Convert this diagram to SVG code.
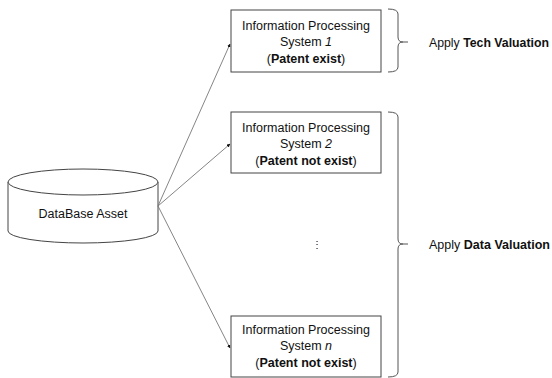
<svg xmlns="http://www.w3.org/2000/svg" width="552" height="378" viewBox="0 0 552 378">
  <style>
    text { font-family: "Liberation Sans", "Noto Sans CJK KR", sans-serif; font-size: 12.5px; fill: #111; }
    .c { text-anchor: middle; }
    .b { font-weight: bold; }
    .i { font-style: italic; }
    .box { fill: #fff; stroke: #444; stroke-width: 1; }
    .edge { stroke: #777; stroke-width: 0.9; fill: none; }
    .brace { stroke: #555; stroke-width: 1; fill: none; }
  </style>
  <defs>
    <marker id="arrow" viewBox="0 0 10 10" refX="9" refY="5" markerWidth="4" markerHeight="4" orient="auto">
      <path d="M0,0 L10,5 L0,10 z" fill="#111"/>
    </marker>
  </defs>

  <!-- database cylinder -->
  <g id="database">
    <path class="box" d="M8,182 L8,231 A75,12 0 0 0 158,231 L158,182"/>
    <ellipse class="box" cx="83" cy="182" rx="75" ry="13"/>
    <text class="c" x="83" y="218">DataBase Asset</text>
  </g>

  <!-- connectors -->
  <g id="connectors">
    <line class="edge" x1="158" y1="206" x2="230" y2="44" marker-end="url(#arrow)"/>
    <line class="edge" x1="158" y1="206" x2="230" y2="144" marker-end="url(#arrow)"/>
    <line class="edge" x1="158" y1="206" x2="230" y2="348" marker-end="url(#arrow)"/>
  </g>

  <g id="system1">
    <rect class="box" x="231" y="10" width="150" height="62"/>
    <text class="c" x="306" y="30">Information Processing</text>
    <text class="c" x="306" y="46">System <tspan class="i">1</tspan></text>
    <text class="c" x="306" y="63">(<tspan class="b">Patent exist</tspan>)</text>
  </g>

  <g id="system2">
    <rect class="box" x="231" y="112" width="150" height="61"/>
    <text class="c" x="306" y="132">Information Processing</text>
    <text class="c" x="306" y="148">System <tspan class="i">2</tspan></text>
    <text class="c" x="306" y="165">(<tspan class="b">Patent not exist</tspan>)</text>
  </g>

  <g id="ellipsis">
    <text class="c" x="317" y="248" style="font-size:10px">⋮</text>
  </g>

  <g id="systemN">
    <rect class="box" x="231" y="316" width="150" height="61"/>
    <text class="c" x="306" y="334">Information Processing</text>
    <text class="c" x="306" y="350">System <tspan class="i">n</tspan></text>
    <text class="c" x="306" y="367">(<tspan class="b">Patent not exist</tspan>)</text>
  </g>

  <!-- braces and valuation labels -->
  <g id="tech-valuation">
    <path class="brace" d="M388,9 Q398,9 398,14 L398,37 Q398,42 403,42 L408,42 M403,42 Q398,42 398,47 L398,67 Q398,72 388,72"/>
    <text x="429" y="47" textLength="120" lengthAdjust="spacingAndGlyphs">Apply <tspan class="b">Tech Valuation</tspan></text>
  </g>

  <g id="data-valuation">
    <path class="brace" d="M388,112 Q398,112 398,117 L398,239 Q398,244 403,244 L408,244 M403,244 Q398,244 398,249 L398,372 Q398,377 388,377"/>
    <text x="429" y="249" textLength="121" lengthAdjust="spacingAndGlyphs">Apply <tspan class="b">Data Valuation</tspan></text>
  </g>
</svg>
